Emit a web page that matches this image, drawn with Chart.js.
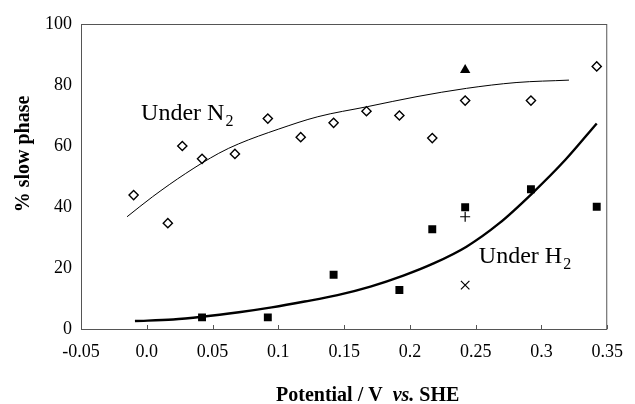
<!DOCTYPE html>
<html>
<head>
<meta charset="utf-8">
<script src="https://cdn.jsdelivr.net/npm/chart.js@4"></script>
<style>
  html, body { margin: 0; padding: 0; background: #fff; }
</style>
</head>
<body>
<canvas id="chart" width="635" height="404"></canvas>
<script>
// measured points, under N2 (open diamonds)
const n2X = [-0.01, 0.016, 0.027, 0.042, 0.067, 0.092, 0.117, 0.142, 0.167, 0.192, 0.217, 0.242, 0.292, 0.342];
const n2Y = [43.9, 34.7, 60.0, 55.8, 57.4, 69.0, 62.9, 67.6, 71.4, 70.0, 62.6, 74.9, 74.9, 86.1];

// measured points, under H2 (filled squares)
const h2X = [0.042, 0.092, 0.142, 0.192, 0.217, 0.242, 0.292, 0.342];
const h2Y = [3.8, 3.8, 17.8, 12.8, 32.7, 39.9, 45.8, 40.1];

// single extra points at 0.242 V
const triX = [0.242], triY = [84.9];
const plusX = [0.242], plusY = [36.8];
const crossX = [0.242], crossY = [14.4];

// fitted curves
const n2FitX = [-0.015, 0.0045, 0.0296, 0.0547, 0.0698, 0.0999, 0.13, 0.1677, 0.2054, 0.243, 0.2807, 0.3209];
const n2FitY = [36.8, 43.4, 51.0, 57.6, 60.7, 65.5, 69.6, 72.9, 76.2, 78.9, 80.8, 81.6];
const h2FitX = [-0.009, 0.02, 0.042, 0.07, 0.095, 0.12, 0.145, 0.17, 0.195, 0.218, 0.243, 0.268, 0.293, 0.318, 0.342];
const h2FitY = [2.6, 3.1, 4.0, 5.5, 7.1, 9.0, 11.1, 13.9, 17.5, 21.5, 27.0, 34.7, 44.5, 55.4, 67.4];

// axis ticks
const xTickVals = [-0.05, 0, 0.05, 0.1, 0.15, 0.2, 0.25, 0.3, 0.35];
const xTickLabels = ['-0.05', '0.0', '0.05', '0.1', '0.15', '0.2', '0.25', '0.3', '0.35'];
const yTickVals = [0, 20, 40, 60, 80, 100];

// curve labels: [text, subscript, x, y]
const curveLabels = [
    ['Under N', '2', -0.0043, 68.5],
    ['Under H', '2', 0.2524, 21.5]
];

const SERIF = '"Liberation Serif", "Times New Roman", serif';

function pts(xs, ys) {
    return xs.map((v, i) => ({ x: v, y: ys[i] }));
}

const framePlugin = {
    id: 'frame',
    beforeDatasetsDraw(chart) {
        const { ctx, chartArea: a, scales: { x } } = chart;
        ctx.save();
        ctx.strokeStyle = '#555';
        ctx.lineWidth = 1;
        ctx.strokeRect(a.left + 0.5, a.top + 0.5, a.right - a.left - 1, a.bottom - a.top);
        ctx.beginPath();
        xTickVals.forEach(v => {
            const px = Math.round(x.getPixelForValue(v)) + 0.5;
            ctx.moveTo(px, a.bottom);
            ctx.lineTo(px, a.bottom - 4);
        });
        ctx.stroke();
        ctx.restore();
    },
    afterDraw(chart) {
        const { ctx, scales: { x, y } } = chart;
        ctx.save();
        ctx.fillStyle = '#000';
        ctx.textBaseline = 'alphabetic';
        ctx.textAlign = 'left';

        // curve labels with subscript
        curveLabels.forEach(([txt, sub, vx, vy]) => {
            const px = x.getPixelForValue(vx);
            const py = y.getPixelForValue(vy);
            ctx.font = '24px ' + SERIF;
            ctx.fillText(txt, px, py);
            const w = ctx.measureText(txt).width;
            ctx.font = '16px ' + SERIF;
            ctx.fillText(sub, px + w + 1, py + 6);
        });

        // x axis title, mixed styles
        const parts = [
            ['bold 20px ' + SERIF, 'Potential / V  '],
            ['italic bold 20px ' + SERIF, 'vs.'],
            ['bold 20px ' + SERIF, ' SHE']
        ];
        let cx = 276;
        parts.forEach(([f, t]) => {
            ctx.font = f;
            ctx.fillText(t, cx, 401);
            cx += ctx.measureText(t).width;
        });

        // y axis title, sits above the middle of the axis
        ctx.translate(24, 154);
        ctx.rotate(-Math.PI / 2);
        ctx.font = 'bold 20px ' + SERIF;
        ctx.textAlign = 'center';
        ctx.textBaseline = 'middle';
        ctx.fillText('% slow phase', 0, 0);
        ctx.restore();
    }
};

new Chart(document.getElementById('chart'), {
    type: 'scatter',
    data: {
        datasets: [
            {
                label: 'N2 fit',
                data: pts(n2FitX, n2FitY),
                showLine: true,
                borderColor: '#000',
                borderWidth: 1,
                pointRadius: 0,
                cubicInterpolationMode: 'monotone'
            },
            {
                label: 'H2 fit',
                data: pts(h2FitX, h2FitY),
                showLine: true,
                borderColor: '#000',
                borderWidth: 2.4,
                pointRadius: 0,
                cubicInterpolationMode: 'monotone'
            },
            {
                label: 'Under N2',
                data: pts(n2X, n2Y),
                pointStyle: 'rectRot',
                pointRadius: 4.6,
                backgroundColor: '#fff',
                borderColor: '#000',
                borderWidth: 1.4
            },
            {
                label: 'Under H2',
                data: pts(h2X, h2Y),
                pointStyle: 'rect',
                pointRadius: 5.6,
                backgroundColor: '#000',
                borderColor: '#000',
                borderWidth: 0
            },
            {
                label: 'triangle',
                data: pts(triX, triY),
                pointStyle: 'triangle',
                pointRadius: 6,
                backgroundColor: '#000',
                borderColor: '#000',
                borderWidth: 0
            },
            {
                label: 'plus',
                data: pts(plusX, plusY),
                pointStyle: 'cross',
                pointRadius: 5,
                borderColor: '#000',
                borderWidth: 1.2
            },
            {
                label: 'x',
                data: pts(crossX, crossY),
                pointStyle: 'crossRot',
                pointRadius: 6,
                borderColor: '#000',
                borderWidth: 1.2
            }
        ]
    },
    options: {
        responsive: false,
        animation: false,
        layout: { padding: { left: 0, top: 24, right: 23, bottom: 0 } },
        plugins: {
            legend: { display: false },
            tooltip: { enabled: false }
        },
        scales: {
            x: {
                type: 'linear',
                min: -0.05,
                max: 0.35,
                afterBuildTicks: s => { s.ticks = xTickVals.map(v => ({ value: v })); },
                afterFit: s => { s.height = 75; },
                grid: { display: false, drawTicks: false },
                border: { display: false },
                ticks: {
                    padding: 12,
                    color: '#000',
                    font: { family: SERIF, size: 18 },
                    maxRotation: 0,
                    callback: v => {
                        const i = xTickVals.findIndex(t => Math.abs(t - v) < 1e-9);
                        return i >= 0 ? xTickLabels[i] : '';
                    }
                }
            },
            y: {
                min: 0,
                max: 100,
                afterBuildTicks: s => { s.ticks = yTickVals.map(v => ({ value: v })); },
                afterFit: s => { s.width = 81; },
                grid: { display: false, drawTicks: false },
                border: { display: false },
                ticks: {
                    padding: 9,
                    color: '#000',
                    font: { family: SERIF, size: 18 }
                }
            }
        }
    },
    plugins: [framePlugin]
});
</script>
</body>
</html>
